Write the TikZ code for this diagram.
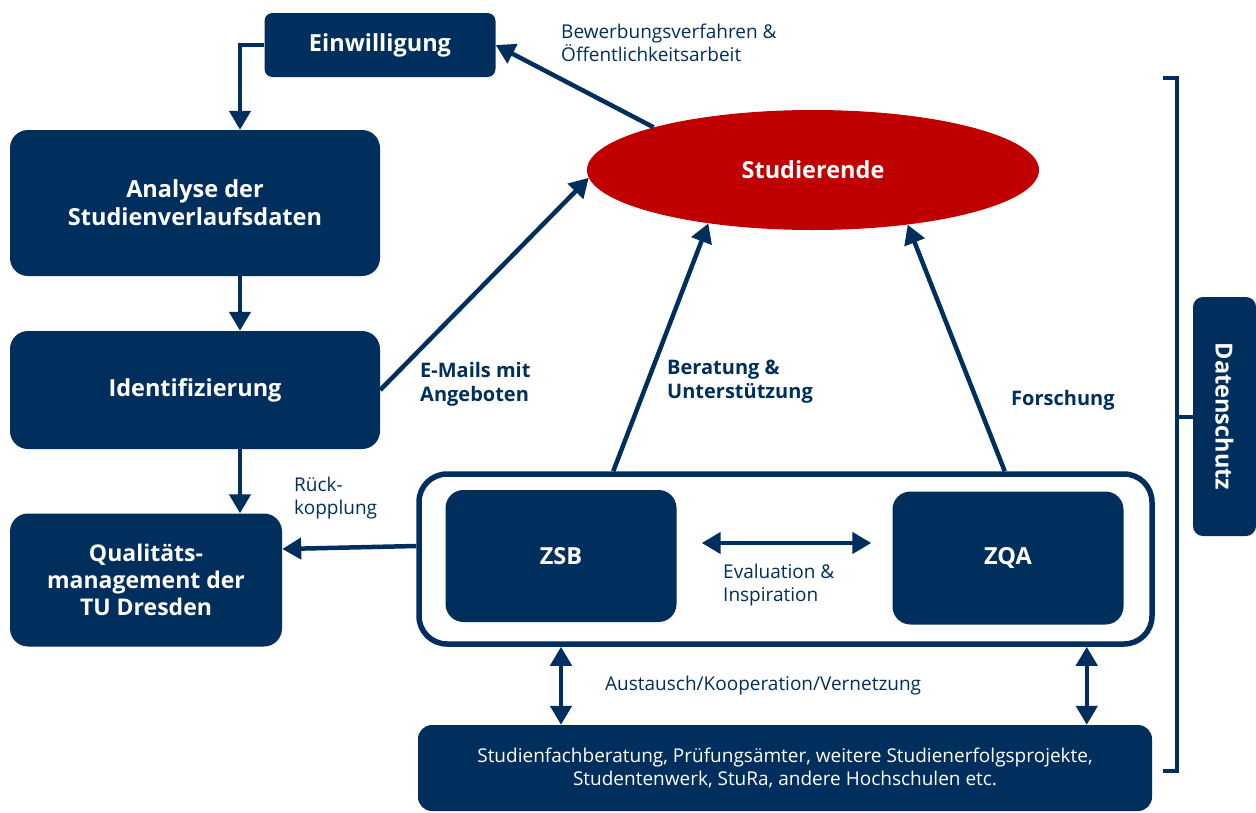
\documentclass[tikz,border=0pt]{standalone}
\usepackage{fontspec}
\setmainfont{Open Sans}
\usepackage{tikz}
\usetikzlibrary{positioning,arrows.meta,shapes.geometric}
\definecolor{tudblue}{RGB}{0,46,93}
\definecolor{tudred}{RGB}{192,0,0}

\begin{document}
\begin{tikzpicture}[x=1pt,y=-1pt,
box/.style={fill=tudblue,text=white,rounded corners=18pt,align=center,inner sep=0pt,font=\fontsize{23.5}{28}\selectfont\bfseries},
arr/.style={-{Triangle[length=19pt,width=21pt]},line width=4.5pt,draw=tudblue},
darr/.style={{Triangle[length=19pt,width=21pt]}-{Triangle[length=19pt,width=21pt]},line width=4.5pt,draw=tudblue},
lbl/.style={text=tudblue,align=left,anchor=west,inner sep=0pt,font=\fontsize{19}{23}\selectfont},
blbl/.style={lbl,font=\fontsize{20}{24}\selectfont\bfseries}]
\useasboundingbox (0,0) rectangle (1256,812);
\node[box,rounded corners=8pt,minimum width=231pt,minimum height=64pt] (einw) at (380,45) {Einwilligung};
\node[box,minimum width=370pt,minimum height=146pt] (ana) at (195,203) {Analyse der\\Studienverlaufsdaten};
\node[box,minimum width=370pt,minimum height=118pt] (iden) at (195,390) {Identifizierung};
\node[box,minimum width=272pt,minimum height=133pt,font=\fontsize{23}{27}\selectfont\bfseries] (quali) at (146,580) {Qualitäts-\\management der\\TU Dresden};
\node[ellipse,fill=tudred,text=white,inner sep=0pt,minimum width=452pt,minimum height=120pt,font=\fontsize{23.5}{28}\selectfont\bfseries] (stud) at (813,170) {Studierende};
\node[draw=tudblue,fill=white,line width=5.5pt,rounded corners=28pt,minimum width=733pt,minimum height=170pt] (cont) at (785.5,559) {};
\node[box,minimum width=231pt,minimum height=132pt] (zsb) at (561,556) {ZSB};
\node[box,minimum width=231pt,minimum height=133pt] (zqa) at (1008,558) {ZQA};
\node[box,rounded corners=14pt,minimum width=734pt,minimum height=86pt,font=\fontsize{19}{23}\selectfont] (bot) at (785,768) {Studienfachberatung, Prüfungsämter, weitere Studienerfolgsprojekte,\\Studentenwerk, StuRa, andere Hochschulen etc.};
\node[box,rounded corners=10pt,minimum width=63pt,minimum height=239pt] (dsch) at (1224.5,416.5) {\rotatebox{-90}{Datenschutz}};
% labels
\node[lbl] (lbew) at (561,43) {Bewerbungsverfahren \&\\Öffentlichkeitsarbeit};
\node[lbl] (lrueck) at (294,498) {Rück-\\kopplung};
\node[blbl] (lmail) at (420,384) {E-Mails mit\\Angeboten};
\node[blbl] (lbera) at (667,382) {Beratung \&\\Unterstützung};
\node[blbl] (lfor) at (1011,400) {Forschung};
\node[lbl] (leval) at (723,585) {Evaluation \&\\Inspiration};
\node[lbl] (laus) at (605,686) {Austausch/Kooperation/Vernetzung};
% connectors
\draw[arr] (einw.west) -| ([xshift=45pt]ana.north);
\draw[arr] ([xshift=45pt]ana.south) -- ([xshift=45pt]iden.north);
\draw[arr] ([xshift=45pt]iden.south) -- ([xshift=45pt]iden.south |- quali.north);
\draw[arr] ([yshift=13pt]cont.west) -- ([yshift=31pt]quali.east);
\draw[arr] (iden.east) -- (stud.182);
\draw[arr] (stud.165) -- (einw.east);
\draw[arr] ([xshift=197pt]cont.north west) -- (stud.207);
\draw[arr] ([xshift=-150pt]cont.north east) -- (stud.330);
\draw[darr] ([shift={(25pt,13pt)}]zsb.east) -- ([shift={(-21pt,15pt)}]zqa.west);
\draw[darr] (zsb.south |- cont.south) -- (zsb.south |- bot.north);
\draw[darr] ([xshift=-68pt]cont.south east) -- ([xshift=-68pt]cont.south east |- bot.north);
% bracket
\draw[tudblue,line width=4pt] (1163,78) -- (1177,78) -- (1177,771) -- (1163,771);
\draw[tudblue,line width=4pt] (dsch.west) -- ++(-16,0);
\end{tikzpicture}
\end{document}
